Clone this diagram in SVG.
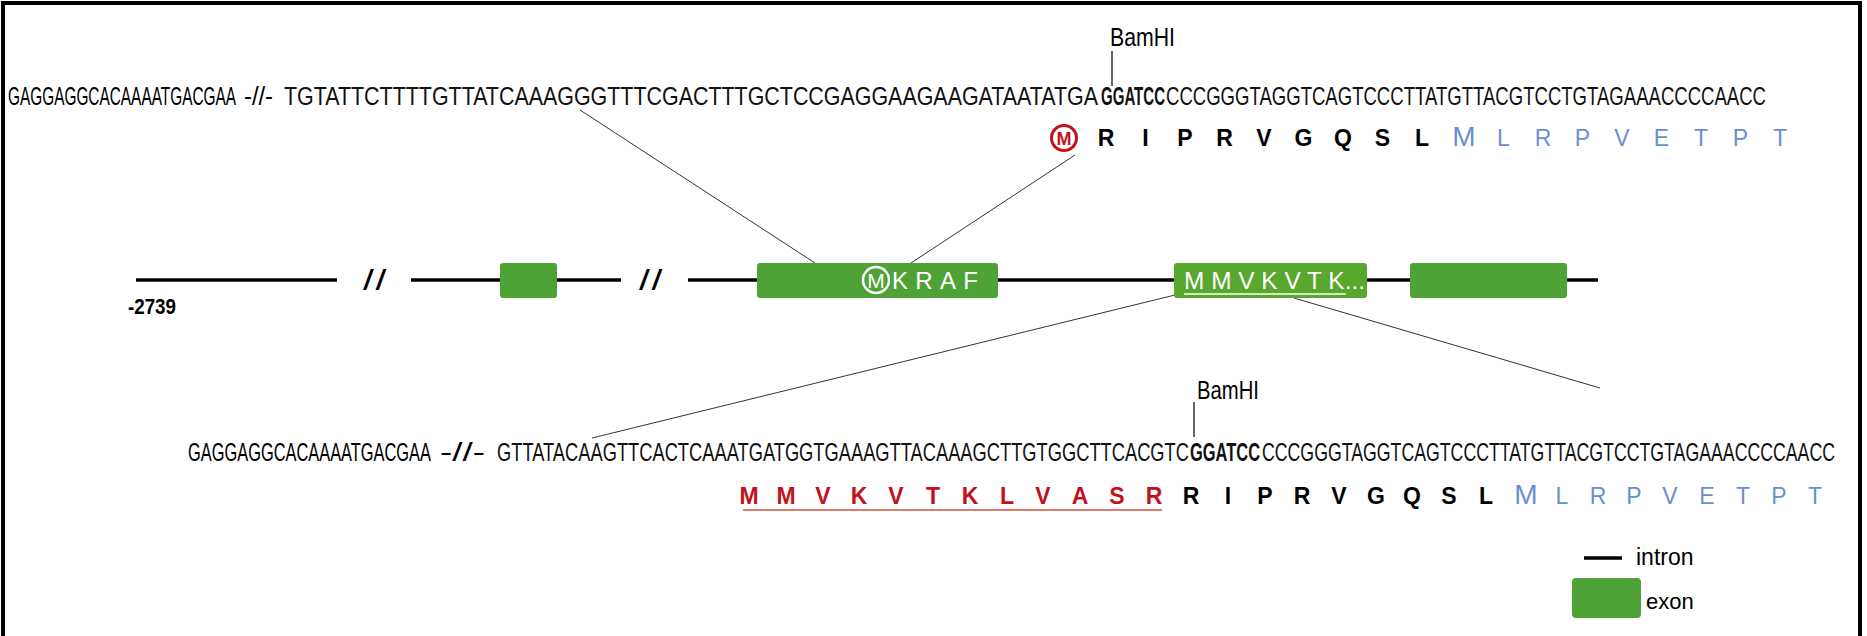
<svg xmlns="http://www.w3.org/2000/svg" width="1867" height="636" viewBox="0 0 1867 636">
<style>
text{font-family:"Liberation Sans",Arial,sans-serif}
.seq{font-size:25px;fill:#111}
.lead{font-size:25px;fill:#000}
.bold{font-weight:bold}
.aa{font-family:"Liberation Sans Narrow","Liberation Sans",Arial,sans-serif;font-size:23px;font-weight:bold;fill:#000;text-anchor:middle}
.red{fill:#c2111b}
.blue{font-family:"Liberation Sans Narrow","Liberation Sans",Arial,sans-serif;font-size:23px;fill:#6a8fd0;text-anchor:middle}
.bm{font-size:28px}
.lbl{font-size:25px;fill:#000}
.intron{stroke:#000;stroke-width:3.5;fill:none}
.exon{fill:#4ea236}
.exon2{fill:#57a82c}
.conn{stroke:#333;stroke-width:1;fill:none}
.tick{stroke:#000;stroke-width:1.2}
.wt{fill:#fff;font-size:24px}
.slash{font-size:27px;font-weight:bold;font-style:italic;fill:#000;letter-spacing:5px}
.leg{font-size:23px;fill:#000}
</style>
<rect width="1867" height="636" fill="#fff"/>
<path d="M3,640 V3 H1860 V640" fill="none" stroke="#000" stroke-width="4"/>

<g id="top-sequence">
<text class="lbl" transform="translate(1110,46) scale(0.85,1)" textLength="76.5" lengthAdjust="spacingAndGlyphs">BamHI</text>
<line class="tick" x1="1112" y1="51" x2="1112" y2="86"/>
<text class="lead" transform="translate(8,105) scale(0.63,1)" textLength="361.9" lengthAdjust="spacingAndGlyphs">GAGGAGGCACAAAATGACGAA</text>
<text class="lead" x="244" y="105" textLength="29" lengthAdjust="spacingAndGlyphs">-//-</text>
<text class="seq" transform="translate(284,105) scale(0.82,1)" textLength="992.7" lengthAdjust="spacingAndGlyphs">TGTATTCTTTTGTTATCAAAGGGTTTCGACTTTGCTCCGAGGAAGAAGATAATATGA</text>
<text class="seq bold" transform="translate(1101,105) scale(0.6,1)" textLength="106.7" lengthAdjust="spacingAndGlyphs">GGATCC</text>
<text class="seq" transform="translate(1166,105) scale(0.74,1)" textLength="810.8" lengthAdjust="spacingAndGlyphs">CCCGGGTAGGTCAGTCCCTTATGTTACGTCCTGTAGAAACCCCAACC</text>
</g>

<g id="top-protein">
<circle cx="1064" cy="138" r="12.5" fill="none" stroke="#c2111b" stroke-width="3"/>
<text class="aa red" x="1064" y="145" style="font-size:18px">M</text>
<text class="aa" x="1106" y="146">R</text>
<text class="aa" x="1145.5" y="146">I</text>
<text class="aa" x="1185" y="146">P</text>
<text class="aa" x="1224.5" y="146">R</text>
<text class="aa" x="1264" y="146">V</text>
<text class="aa" x="1303.5" y="146">G</text>
<text class="aa" x="1343" y="146">Q</text>
<text class="aa" x="1382.5" y="146">S</text>
<text class="aa" x="1422" y="146">L</text>
<text class="blue bm" x="1464" y="146">M</text>
<text class="blue" x="1503.5" y="146">L</text>
<text class="blue" x="1543" y="146">R</text>
<text class="blue" x="1582.5" y="146">P</text>
<text class="blue" x="1622" y="146">V</text>
<text class="blue" x="1661.5" y="146">E</text>
<text class="blue" x="1701" y="146">T</text>
<text class="blue" x="1740.5" y="146">P</text>
<text class="blue" x="1780" y="146">T</text>
</g>

<g id="connectors">
<line class="conn" x1="580" y1="110" x2="815" y2="263"/>
<line class="conn" x1="1075" y1="155" x2="911" y2="263"/>
<line class="conn" x1="1175" y1="295" x2="592" y2="438"/>
<line class="conn" x1="1294" y1="298" x2="1600" y2="388"/>
</g>

<g id="gene-model">
<line class="intron" x1="136" y1="280" x2="337" y2="280"/>
<text class="slash" x="364" y="289">//</text>
<line class="intron" x1="411" y1="280" x2="621" y2="280"/>
<text class="slash" x="640" y="289">//</text>
<line class="intron" x1="688" y1="280" x2="1598" y2="280"/>
<text class="lbl bold" x="128" y="314" style="font-size:22px" textLength="48" lengthAdjust="spacingAndGlyphs">-2739</text>
</g>

<g id="exon1"><rect class="exon" x="500" y="263" width="57" height="35" rx="3"/></g>
<g id="exon2">
<rect class="exon" x="757" y="263" width="241" height="35" rx="3"/>
<circle cx="876" cy="280" r="13" fill="none" stroke="#fff" stroke-width="2.5"/>
<text class="wt" x="876" y="288" text-anchor="middle" style="font-size:21px">M</text>
<text class="wt" x="892" y="289" textLength="86" lengthAdjust="spacing">KRAF</text>
</g>
<g id="exon3">
<rect class="exon2" x="1174" y="263" width="193" height="35" rx="3"/>
<text class="wt" x="1184" y="289" textLength="181" lengthAdjust="spacingAndGlyphs">M M V K V T K...</text>
<line x1="1184" y1="294" x2="1346" y2="294" stroke="#fff" stroke-width="1.5"/>
</g>
<g id="exon4"><rect class="exon" x="1410" y="263" width="157" height="35" rx="3"/></g>

<g id="bottom-sequence">
<text class="lbl" transform="translate(1197,399) scale(0.82,1)" textLength="75.6" lengthAdjust="spacingAndGlyphs">BamHI</text>
<line class="tick" x1="1194" y1="402" x2="1194" y2="437"/>
<text class="lead" transform="translate(188,461) scale(0.67,1)" textLength="362.7" lengthAdjust="spacingAndGlyphs">GAGGAGGCACAAAATGACGAA</text>
<text class="lead" x="440" y="461" textLength="45" lengthAdjust="spacingAndGlyphs">-//-</text>
<text class="seq" transform="translate(497,461) scale(0.715,1)" textLength="967.8" lengthAdjust="spacingAndGlyphs">GTTATACAAGTTCACTCAAATGATGGTGAAAGTTACAAAGCTTGTGGCTTCACGTC</text>
<text class="seq bold" transform="translate(1190,461) scale(0.65,1)" textLength="107.7" lengthAdjust="spacingAndGlyphs">GGATCC</text>
<text class="seq" transform="translate(1262,461) scale(0.705,1)" textLength="812.8" lengthAdjust="spacingAndGlyphs">CCCGGGTAGGTCAGTCCCTTATGTTACGTCCTGTAGAAACCCCAACC</text>
</g>

<g id="bottom-protein">
<text class="aa red" x="749" y="504">M</text>
<text class="aa red" x="786" y="504">M</text>
<text class="aa red" x="823" y="504">V</text>
<text class="aa red" x="859" y="504">K</text>
<text class="aa red" x="896" y="504">V</text>
<text class="aa red" x="933" y="504">T</text>
<text class="aa red" x="970" y="504">K</text>
<text class="aa red" x="1007" y="504">L</text>
<text class="aa red" x="1043" y="504">V</text>
<text class="aa red" x="1080" y="504">A</text>
<text class="aa red" x="1117" y="504">S</text>
<text class="aa red" x="1154" y="504">R</text>
<line x1="743" y1="510" x2="1162" y2="510" stroke="#d0503a" stroke-width="1.5"/>
<text class="aa" x="1191" y="504">R</text>
<text class="aa" x="1228" y="504">I</text>
<text class="aa" x="1265" y="504">P</text>
<text class="aa" x="1302" y="504">R</text>
<text class="aa" x="1339" y="504">V</text>
<text class="aa" x="1376" y="504">G</text>
<text class="aa" x="1412" y="504">Q</text>
<text class="aa" x="1449" y="504">S</text>
<text class="aa" x="1486" y="504">L</text>
<text class="blue bm" x="1526" y="504">M</text>
<text class="blue" x="1562" y="504">L</text>
<text class="blue" x="1598" y="504">R</text>
<text class="blue" x="1634" y="504">P</text>
<text class="blue" x="1670" y="504">V</text>
<text class="blue" x="1707" y="504">E</text>
<text class="blue" x="1743" y="504">T</text>
<text class="blue" x="1779" y="504">P</text>
<text class="blue" x="1815" y="504">T</text>
</g>

<g id="legend">
<line class="intron" x1="1584" y1="558" x2="1622" y2="558"/>
<text class="leg" x="1636" y="565">intron</text>
<rect class="exon" x="1572" y="578" width="69" height="40" rx="4"/>
<text class="leg" x="1646" y="609" style="font-size:22px">exon</text>
</g>
</svg>
